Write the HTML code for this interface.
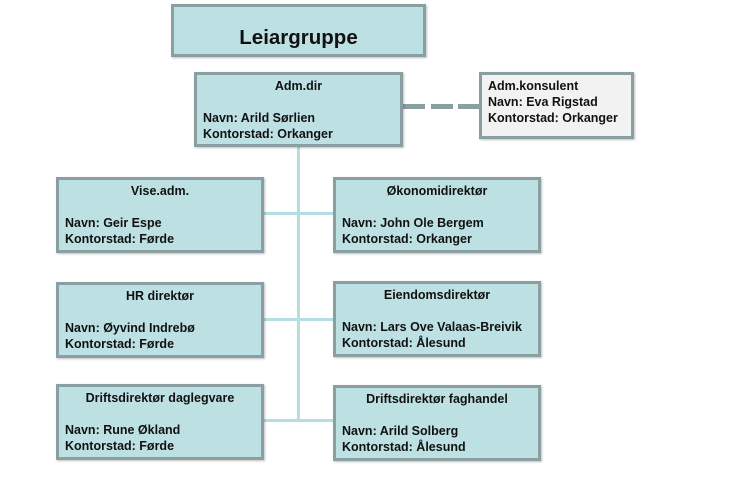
<!DOCTYPE html>
<html><head><meta charset="utf-8"><style>
body{margin:0;width:731px;height:478px;background:#fff;position:relative;overflow:hidden;font-family:"Liberation Sans",Arial,sans-serif;font-weight:bold;font-size:12.5px;color:#111}
.b{position:absolute;box-sizing:border-box;background:#bde0e3;border:3px solid #8a9fa1;box-shadow:1px 1px 2px rgba(0,0,0,.25);padding:3px 6px 0 6px;line-height:16px}
.t{text-align:center}
.l{position:absolute;background:#b3dfe3}
.d{position:absolute;background:#8a9fa1;height:5px;top:104px}
</style></head><body>
<div class="l" style="left:297px;top:146px;width:3px;height:275px"></div>
<div class="l" style="left:263px;top:212px;width:70px;height:3px"></div>
<div class="l" style="left:263px;top:318px;width:70px;height:3px"></div>
<div class="l" style="left:263px;top:419px;width:70px;height:3px"></div>
<div class="d" style="left:403px;width:22px"></div>
<div class="d" style="left:431px;width:22px"></div>
<div class="d" style="left:458px;width:22px"></div>
<div class="b" style="left:171px;top:4px;width:255px;height:53px;font-size:20.5px;text-align:center;line-height:44px;padding:9px 0 0 0">Leiargruppe</div>
<div class="b" style="left:194px;top:72px;width:209px;height:75px"><div class="t">Adm.dir</div><br>Navn: Arild Sørlien<br>Kontorstad: Orkanger</div>
<div class="b" style="left:479px;top:72px;width:155px;height:67px;background:#f2f2f2;padding-top:3px">Adm.konsulent<br>Navn: Eva Rigstad<br>Kontorstad: Orkanger</div>
<div class="b" style="left:56px;top:177px;width:208px;height:76px"><div class="t">Vise.adm.</div><br>Navn: Geir Espe<br>Kontorstad: Førde</div>
<div class="b" style="left:333px;top:177px;width:208px;height:76px"><div class="t">Økonomidirektør</div><br>Navn: John Ole Bergem<br>Kontorstad: Orkanger</div>
<div class="b" style="left:56px;top:282px;width:208px;height:76px"><div class="t">HR direktør</div><br>Navn: Øyvind Indrebø<br>Kontorstad: Førde</div>
<div class="b" style="left:333px;top:281px;width:208px;height:76px"><div class="t">Eiendomsdirektør</div><br>Navn: Lars Ove Valaas-Breivik<br>Kontorstad: Ålesund</div>
<div class="b" style="left:56px;top:384px;width:208px;height:76px"><div class="t">Driftsdirektør daglegvare</div><br>Navn: Rune Økland<br>Kontorstad: Førde</div>
<div class="b" style="left:333px;top:385px;width:208px;height:76px"><div class="t">Driftsdirektør faghandel</div><br>Navn: Arild Solberg<br>Kontorstad: Ålesund</div>
</body></html>
